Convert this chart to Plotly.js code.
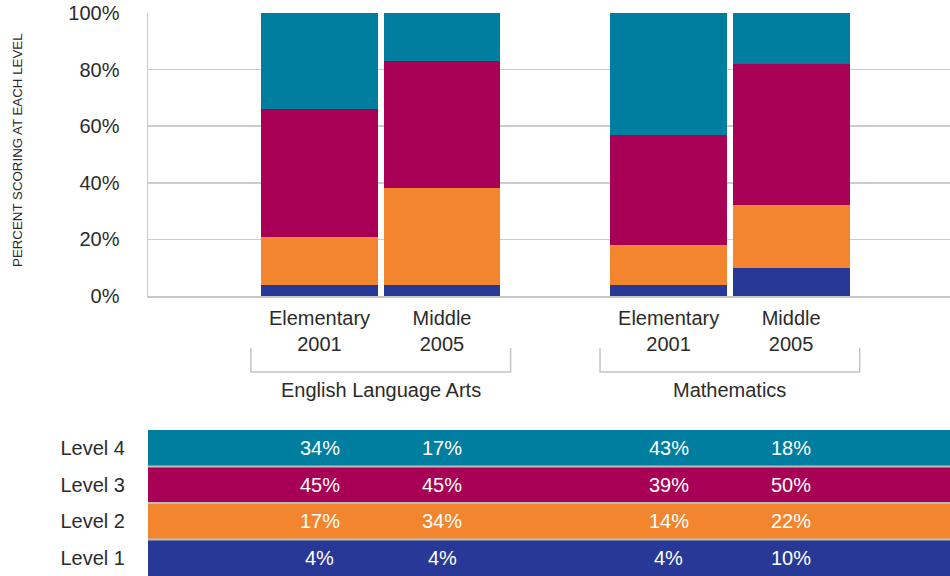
<!DOCTYPE html>
<html>
<head>
<meta charset="utf-8">
<script src="https://cdn.plot.ly/plotly-3.0.1.min.js"></script>
<style>html,body{margin:0;padding:0;background:#fff;}#chart{width:950px;height:576px;}</style>
</head>
<body>
<div id="chart"></div>
<script>
// ---- data ----
const groups = ["English Language Arts", "Mathematics"];
const categories = ["Elementary<br>2001", "Middle<br>2005", "Elementary<br>2001", "Middle<br>2005"];
const groupOfBar = [0, 0, 1, 1];
const levels = ["Level 1", "Level 2", "Level 3", "Level 4"];
const level1 = [4, 4, 4, 10];
const level2 = [17, 34, 14, 22];
const level3 = [45, 45, 39, 50];
const level4 = [34, 17, 43, 18];
const yTicks = [0, 20, 40, 60, 80, 100];
const yTitle = "PERCENT SCORING AT EACH LEVEL";

// ---- layout helpers ----
const FONT = "'Liberation Sans', Arial, sans-serif";
const FS = 20;
const TXT = "#2b2b2b";
const colors = ["#283896", "#F2852E", "#A80054", "#007EA0"];
const series = [level1, level2, level3, level4];
const groupGap = 1.85;
const xPos = groupOfBar.map((g, i) => i + 1 + g * (groupGap - 1));
const xRange = [-0.4, 6.147];
const barW = 0.955;

const traces = [];
series.forEach((vals, k) => {
  traces.push({
    type: "bar", x: xPos, y: vals, name: levels[k],
    marker: {color: colors[k], line: {width: 0}},
    width: barW, xaxis: "x", yaxis: "y", hoverinfo: "skip", showlegend: false
  });
});
// table rows
traces.push({
  type: "bar", orientation: "h", y: levels, x: levels.map(() => 1),
  marker: {color: colors, line: {width: 0}}, width: 1,
  xaxis: "x2", yaxis: "y2", hoverinfo: "skip", showlegend: false
});

const annotations = [];
// values in table
series.forEach((vals, k) => {
  vals.forEach((v, i) => {
    annotations.push({
      xref: "x", yref: "y2", x: xPos[i], y: levels[k], text: v + "%",
      showarrow: false, font: {family: FONT, size: FS, color: "#ffffff"},
      xanchor: "center", yanchor: "middle"
    });
  });
});
// group labels
groups.forEach((g, gi) => {
  const xs = xPos.filter((_, i) => groupOfBar[i] === gi);
  const c = (Math.min(...xs) + Math.max(...xs)) / 2;
  annotations.push({
    xref: "x", yref: "paper", x: c, y: 0.330, text: g, showarrow: false,
    font: {family: FONT, size: FS, color: TXT}, xanchor: "center", yanchor: "middle"
  });
});
// y axis title
annotations.push({
  xref: "paper", yref: "paper", x: -0.1621, y: 0.7567, text: yTitle, textangle: -90,
  showarrow: false, font: {family: FONT, size: 13.3, color: TXT}, xanchor: "center", yanchor: "middle"
});

const shapes = [];
// brackets
groups.forEach((g, gi) => {
  const xs = xPos.filter((_, i) => groupOfBar[i] === gi);
  const x0 = Math.min(...xs) - 0.56, x1 = Math.max(...xs) + 0.56;
  const yTop = 0.405, yBot = 0.3623;
  const ln = {color: "#c4c4c4", width: 1.5};
  shapes.push({type: "path", xref: "x", yref: "paper",
    path: `M ${x0} ${yTop} L ${x0} ${yBot} L ${x1} ${yBot} L ${x1} ${yTop}`, line: ln});
});
// row separators
for (let k = 0; k < levels.length - 1; k++) {
  shapes.push({type: "line", xref: "paper", yref: "y2", x0: 0, x1: 1, y0: k + 0.5, y1: k + 0.5,
    line: {color: "#bdbdbd", width: 2}, layer: "above"});
}

const layout = {
  width: 950, height: 576,
  margin: {l: 148, r: 0, t: 13, b: 0, pad: 0},
  paper_bgcolor: "#ffffff", plot_bgcolor: "#ffffff",
  barmode: "stack", bargap: 0,
  font: {family: FONT, color: TXT},
  showlegend: false,
  xaxis: {
    domain: [0, 1], range: xRange, anchor: "y",
    tickvals: xPos, ticktext: categories, ticks: "", ticklabelstandoff: 3,
    tickfont: {family: FONT, size: FS, color: TXT},
    showgrid: false, zeroline: false, showline: true, linecolor: "#c8c8c8", linewidth: 1.5,
    fixedrange: true
  },
  yaxis: {
    domain: [0.4973, 1], range: [0, 100], anchor: "x",
    tickvals: yTicks, ticktext: yTicks.map(v => v + "%"), ticks: "", ticklabelstandoff: 23,
    tickfont: {family: FONT, size: FS, color: TXT},
    showgrid: true, gridcolor: "#cccccc", gridwidth: 1.5, zeroline: false,
    showline: true, linecolor: "#c8c8c8", linewidth: 1.5, fixedrange: true
  },
  xaxis2: {domain: [0, 1], range: [0, 1], anchor: "y2", visible: false, fixedrange: true},
  yaxis2: {
    domain: [0, 0.2593], range: [-0.5, 3.5], anchor: "x2", type: "category",
    categoryorder: "array", categoryarray: levels,
    ticks: "", ticklabelstandoff: 22, showgrid: false, zeroline: false, showline: false,
    tickfont: {family: FONT, size: FS, color: TXT}, fixedrange: true
  },
  annotations: annotations,
  shapes: shapes
};

Plotly.newPlot("chart", traces, layout, {displayModeBar: false, staticPlot: true});
</script>
</body>
</html>
